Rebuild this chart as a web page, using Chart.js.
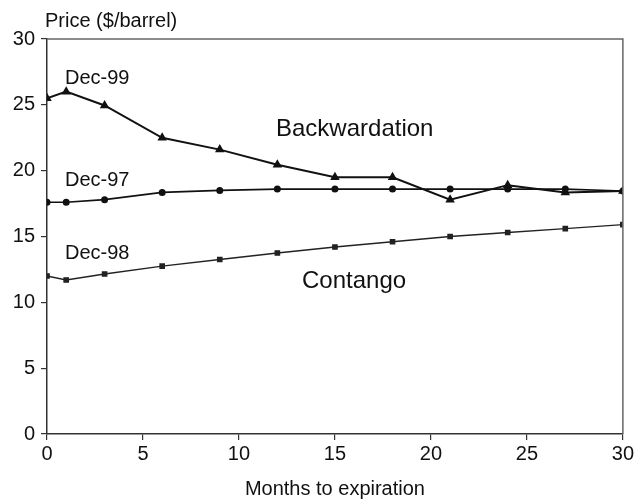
<!DOCTYPE html>
<html>
<head>
<meta charset="utf-8">
<script src="https://cdn.jsdelivr.net/npm/chart.js@4/dist/chart.umd.min.js"></script>
<style>
  html, body { margin: 0; padding: 0; background: #fff; }
  #wrap { width: 636px; height: 500px; position: relative; }
</style>
</head>
<body>
<div id="wrap"><canvas id="c" width="636" height="500"></canvas></div>
<script>
const months = [0, 1, 3, 6, 9, 12, 15, 18, 21, 24, 27, 30];
const dec99 = [25.5, 26.0, 24.95, 22.5, 21.6, 20.45, 19.5, 19.5, 17.8, 18.9, 18.35, 18.45];
const dec97 = [17.6, 17.6, 17.8, 18.35, 18.5, 18.6, 18.6, 18.6, 18.6, 18.6, 18.6, 18.45];
const dec98 = [12.0, 11.7, 12.15, 12.75, 13.25, 13.75, 14.2, 14.6, 15.0, 15.3, 15.6, 15.9];
const xTicks = [0, 5, 10, 15, 20, 25, 30];
const yTicks = [0, 5, 10, 15, 20, 25, 30];
const seriesNames = ['Dec-99', 'Dec-97', 'Dec-98'];
const regionLabels = ['Backwardation', 'Contango'];
const yAxisTitle = 'Price ($/barrel)';
const xAxisTitle = 'Months to expiration';

const FONT = '"Liberation Sans", Arial, Helvetica, sans-serif';
const INK = '#111';

function pts(vals) { return months.map((m, i) => ({ x: m, y: vals[i] })); }

const textPlugin = {
  id: 'texts',
  afterDraw(chart) {
    const ctx = chart.ctx;
    const a = chart.chartArea;
    ctx.save();
    ctx.strokeStyle = '#666';
    ctx.lineWidth = 1.5;
    ctx.beginPath();
    ctx.moveTo(a.left, a.top);
    ctx.lineTo(a.right, a.top);
    ctx.lineTo(a.right, a.bottom);
    ctx.stroke();

    ctx.fillStyle = INK;
    ctx.textBaseline = 'alphabetic';
    ctx.textAlign = 'left';
    ctx.font = '20px ' + FONT;
    ctx.fillText(yAxisTitle, 45, 27);
    ctx.textAlign = 'center';
    ctx.fillText(xAxisTitle, (a.left + a.right) / 2, 495);

    ctx.textAlign = 'left';
    ctx.font = '20px ' + FONT;
    ctx.fillText(seriesNames[0], 65, 84);
    ctx.fillText(seriesNames[1], 65, 186);
    ctx.fillText(seriesNames[2], 65, 259);
    ctx.font = '24px ' + FONT;
    ctx.fillText(regionLabels[0], 276, 136);
    ctx.fillText(regionLabels[1], 302, 288);
    ctx.restore();
  }
};

new Chart(document.getElementById('c'), {
  type: 'line',
  data: {
    datasets: [
      { label: seriesNames[0], data: pts(dec99), borderColor: INK, backgroundColor: INK,
        borderWidth: 2, pointStyle: 'triangle', pointRadius: 3.5, tension: 0 },
      { label: seriesNames[1], data: pts(dec97), borderColor: INK, backgroundColor: INK,
        borderWidth: 1.6, pointStyle: 'circle', pointRadius: 2.7, tension: 0 },
      { label: seriesNames[2], data: pts(dec98), borderColor: '#222', backgroundColor: '#222',
        borderWidth: 1.4, pointStyle: 'rect', pointRadius: 3, tension: 0 }
    ]
  },
  options: {
    responsive: false,
    animation: false,
    layout: { padding: { left: 0, right: 12, top: 39, bottom: 0 } },
    plugins: { legend: { display: false }, tooltip: { enabled: false } },
    scales: {
      x: {
        type: 'linear', min: 0, max: 30,
        afterFit(s) { s.height = 66; },
        afterBuildTicks(s) { s.ticks = xTicks.map(v => ({ value: v })); },
        grid: { drawOnChartArea: false, drawTicks: true, tickLength: 6, color: '#333', lineWidth: 1.2 },
        border: { display: true, color: '#333', width: 1.5 },
        ticks: { color: INK, font: { family: FONT, size: 20 }, padding: 2, maxRotation: 0 }
      },
      y: {
        type: 'linear', min: 0, max: 30,
        afterFit(s) { s.width = 47; },
        afterBuildTicks(s) { s.ticks = yTicks.map(v => ({ value: v })); },
        grid: { drawOnChartArea: false, drawTicks: true, tickLength: 6, color: '#333', lineWidth: 1.2 },
        border: { display: true, color: '#333', width: 1.5 },
        ticks: { color: INK, font: { family: FONT, size: 20 }, padding: 6 }
      }
    }
  },
  plugins: [textPlugin]
});
</script>
</body>
</html>
